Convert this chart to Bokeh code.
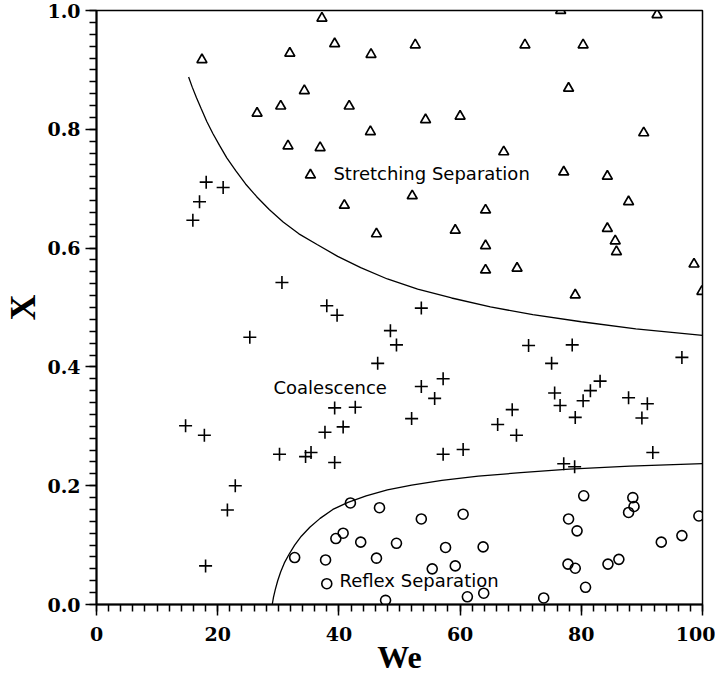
from bokeh.plotting import figure
from bokeh.models import Range1d, SingleIntervalTicker, PrintfTickFormatter, Label
from bokeh.embed import file_html
from bokeh.resources import INLINE

# stretching separation (triangles)
tri_we = [17.4, 37.2, 39.3, 31.9, 45.3, 34.3, 30.4, 41.7, 26.5, 45.2, 31.6, 36.9, 35.3, 40.9, 46.2,
          76.6, 92.5, 52.6, 70.7, 80.3, 77.9, 54.3, 60.0, 90.3, 67.2, 77.1, 84.3, 52.1, 87.8, 64.2,
          59.2, 84.3, 85.6, 64.2, 85.8, 64.2, 69.4, 98.6, 79.0, 99.9]
tri_x = [0.917, 0.987, 0.944, 0.928, 0.926, 0.865, 0.839, 0.839, 0.827, 0.796, 0.772, 0.769, 0.723, 0.672, 0.624,
         1.0, 0.993, 0.942, 0.942, 0.942, 0.869, 0.816, 0.822, 0.794, 0.762, 0.728, 0.721, 0.688, 0.678, 0.664,
         0.630, 0.633, 0.612, 0.604, 0.594, 0.563, 0.566, 0.573, 0.521, 0.527]

# coalescence (crosses)
cross_we = [18.1, 20.9, 17.0, 15.9, 30.6, 38.0, 39.7, 25.3, 48.5, 49.5, 46.4, 39.3, 42.7, 40.7, 37.7,
            14.7, 17.8, 30.2, 34.5, 35.4, 39.3, 22.9, 21.6, 18.0, 53.6, 71.3, 78.5, 96.6, 75.1, 57.2,
            53.6, 83.1, 81.5, 75.6, 55.8, 80.3, 87.8, 90.9, 76.5, 68.6, 52.0, 79.0, 90.0, 66.2, 69.3,
            57.2, 60.5, 91.8, 77.1, 78.9]
cross_x = [0.711, 0.702, 0.678, 0.647, 0.542, 0.503, 0.487, 0.450, 0.461, 0.437, 0.406, 0.331, 0.332, 0.299, 0.290,
           0.301, 0.285, 0.253, 0.249, 0.256, 0.239, 0.200, 0.159, 0.065, 0.499, 0.436, 0.437, 0.416, 0.406, 0.380,
           0.367, 0.376, 0.360, 0.356, 0.347, 0.343, 0.348, 0.338, 0.335, 0.328, 0.313, 0.315, 0.314, 0.303, 0.285,
           0.253, 0.261, 0.256, 0.237, 0.232]

# reflexive separation (circles)
circ_we = [41.9, 46.7, 40.7, 39.5, 43.6, 49.5, 32.7, 37.8, 46.2, 38.0, 47.7, 53.6, 60.5, 57.6, 63.8,
           55.4, 59.2, 61.2, 63.9, 73.8, 80.4, 88.5, 88.7, 87.8, 77.9, 79.3, 99.4, 96.6, 93.2, 77.8,
           79.0, 84.4, 86.2, 80.7]
circ_x = [0.171, 0.163, 0.120, 0.111, 0.105, 0.103, 0.079, 0.075, 0.078, 0.035, 0.007, 0.144, 0.152, 0.096, 0.097,
          0.060, 0.065, 0.013, 0.019, 0.011, 0.183, 0.180, 0.165, 0.155, 0.144, 0.124, 0.149, 0.116, 0.105, 0.068,
          0.061, 0.068, 0.076, 0.029]

# boundary curves, points
upper_we = [15.2, 15.8, 16.5, 17.3, 18.2, 19.2, 20.3, 21.5, 23.0, 24.6, 26.4, 28.5, 30.8, 33.4, 36.4,
            39.8, 43.6, 48.0, 53.0, 58.6, 65.0, 72.0, 80.0, 89.0, 100.0]
upper_x = [0.888, 0.871, 0.853, 0.834, 0.813, 0.793, 0.773, 0.752, 0.730, 0.708, 0.687, 0.665, 0.644, 0.624, 0.606,
           0.586, 0.567, 0.548, 0.531, 0.516, 0.501, 0.488, 0.476, 0.464, 0.453]
lower_we = [29.0, 29.2, 29.5, 29.9, 30.4, 31.0, 31.8, 32.7, 33.8, 35.2, 36.9, 39.0, 41.5, 44.5, 48.0,
            52.0, 57.0, 63.0, 70.0, 78.0, 88.0, 100.0]
lower_x = [0.0, 0.012, 0.025, 0.040, 0.055, 0.070, 0.085, 0.100, 0.115, 0.130, 0.145, 0.160, 0.172, 0.183, 0.193,
           0.201, 0.209, 0.216, 0.222, 0.228, 0.233, 0.237]

p = figure(width=715, height=678, x_range=Range1d(0, 100), y_range=Range1d(0, 1),
           output_backend="svg", toolbar_location=None,
           min_border_left=96, min_border_right=13, min_border_top=10, min_border_bottom=74)
p.xgrid.visible = False
p.ygrid.visible = False
p.outline_line_color = "black"
p.outline_line_width = 1.5

p.xaxis.ticker = SingleIntervalTicker(interval=20, num_minor_ticks=10)
p.yaxis.ticker = SingleIntervalTicker(interval=0.2, num_minor_ticks=10)
p.yaxis.formatter = PrintfTickFormatter(format="%.1f")
for ax in [p.xaxis, p.yaxis]:
    ax.axis_line_width = 2
    ax.axis_line_color = "black"
    ax.major_tick_in = 0
    ax.minor_tick_in = 0
    ax.major_tick_out = 11
    ax.minor_tick_out = 7
    ax.major_tick_line_width = 1.5
    ax.minor_tick_line_width = 1.5
    ax.major_tick_line_color = "black"
    ax.minor_tick_line_color = "black"
    ax.major_label_text_font = "DejaVu Serif"
    ax.major_label_text_font_style = "bold"
    ax.major_label_text_font_size = "19px"
    ax.major_label_text_color = "black"
    ax.axis_label_text_font = "Liberation Serif"
    ax.axis_label_text_font_style = "bold"
    ax.axis_label_text_color = "black"
p.xaxis.axis_label = "We"
p.yaxis.axis_label = "X"
p.xaxis.axis_label_text_font_size = "32px"
p.yaxis.axis_label_text_font_size = "36px"
p.xaxis.major_label_standoff = 11
p.yaxis.major_label_standoff = 5
p.xaxis.axis_label_standoff = -5
p.yaxis.axis_label_standoff = 1

p.line(upper_we, upper_x, line_color="black", line_width=1.3)
p.line(lower_we, lower_x, line_color="black", line_width=1.3)

p.scatter(tri_we, tri_x, marker="triangle", size=10, fill_color=None, line_color="black", line_width=1.7)
p.scatter(cross_we, cross_x, marker="cross", size=13, line_color="black", line_width=1.6)
p.scatter(circ_we, circ_x, marker="circle", size=10, fill_color=None, line_color="black", line_width=1.6)

for txt, lx, ly in [("Stretching Separation", 39.1, 0.725), ("Coalescence", 29.2, 0.366),
                    ("Reflex Separation", 40.1, 0.040)]:
    p.add_layout(Label(x=lx, y=ly, text=txt, text_align="left", text_baseline="middle",
                       text_font="DejaVu Sans", text_font_size="18px", text_color="black"))

open("out.html", "w").write(file_html(p, INLINE))
